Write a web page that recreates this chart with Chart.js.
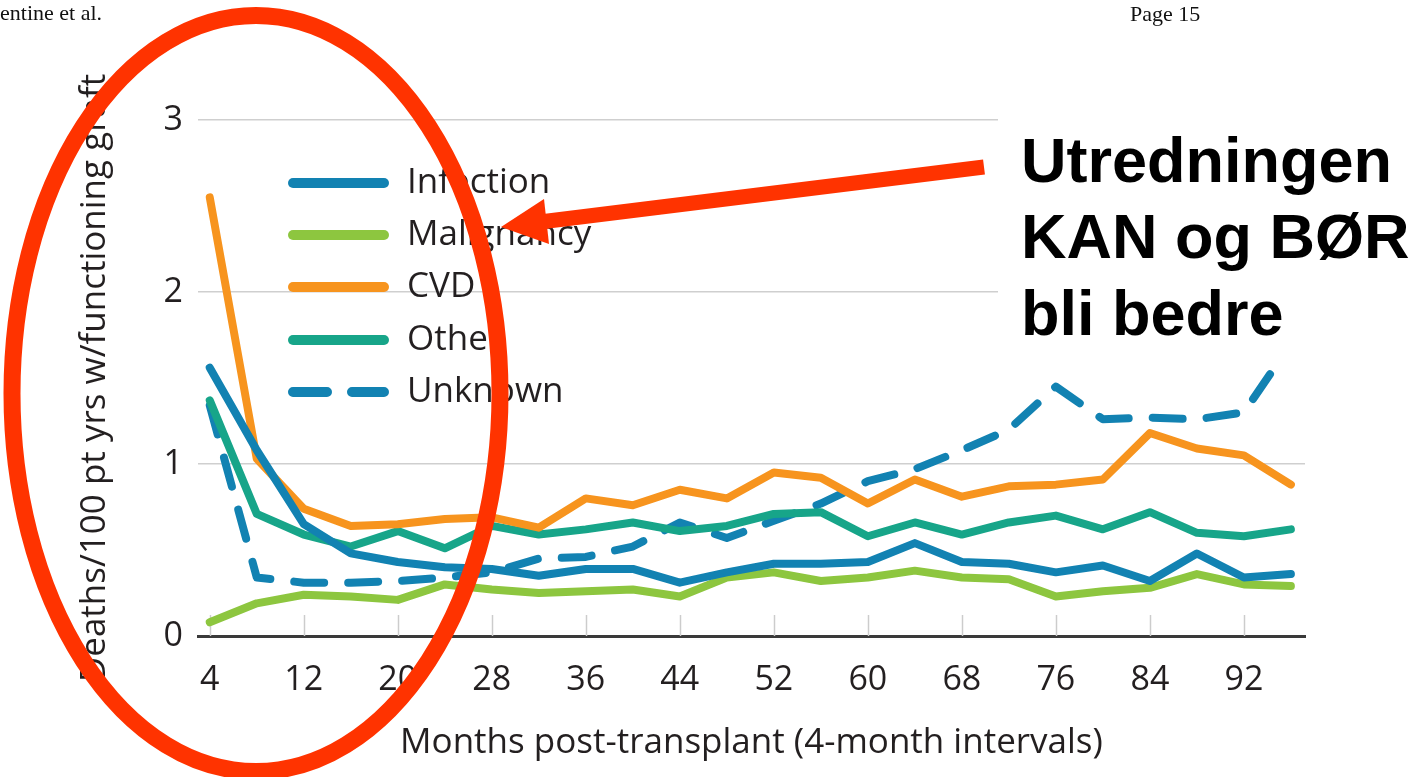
<!DOCTYPE html>
<html>
<head>
<meta charset="utf-8">
<script src="https://cdn.jsdelivr.net/npm/chart.js@4.4.1/dist/chart.umd.min.js"></script>
<style>
  html, body { margin: 0; padding: 0; background: #ffffff; }
  canvas { display: block; }
</style>
</head>
<body>
<canvas id="c" width="1413" height="777"></canvas>
<script>
// ---- data ----
const months      = [4, 8, 12, 16, 20, 24, 28, 32, 36, 40, 44, 48, 52, 56, 60, 64, 68, 72, 76, 80, 84, 88, 92, 96];
const tickMonths  = [4, 12, 20, 28, 36, 44, 52, 60, 68, 76, 84, 92];
const yTickValues = [0, 1, 2, 3];
const seriesNames = ['Infection', 'Malignancy', 'CVD', 'Other', 'Unknown'];

const infection  = [1.56, 1.08, 0.65, 0.48, 0.43, 0.40, 0.39, 0.35, 0.39, 0.39, 0.31, 0.37, 0.42, 0.42, 0.43, 0.54, 0.43, 0.42, 0.37, 0.41, 0.32, 0.48, 0.34, 0.36];
const malignancy = [0.08, 0.19, 0.24, 0.23, 0.21, 0.30, 0.27, 0.25, 0.26, 0.27, 0.23, 0.34, 0.37, 0.32, 0.34, 0.38, 0.34, 0.33, 0.23, 0.26, 0.28, 0.36, 0.30, 0.29];
const cvd        = [2.55, 1.03, 0.74, 0.64, 0.65, 0.68, 0.69, 0.63, 0.80, 0.76, 0.85, 0.80, 0.95, 0.92, 0.77, 0.91, 0.81, 0.87, 0.88, 0.91, 1.18, 1.09, 1.05, 0.88];
const other      = [1.37, 0.71, 0.59, 0.52, 0.61, 0.51, 0.64, 0.59, 0.62, 0.66, 0.61, 0.64, 0.71, 0.72, 0.58, 0.66, 0.59, 0.66, 0.70, 0.62, 0.72, 0.60, 0.58, 0.62];
const unknown    = [1.34, 0.34, 0.31, 0.31, 0.32, 0.34, 0.37, 0.45, 0.46, 0.52, 0.66, 0.57, 0.67, 0.77, 0.90, 0.97, 1.08, 1.20, 1.45, 1.26, 1.27, 1.26, 1.30, 1.70];

const seriesValues = [infection, malignancy, cvd, other, unknown];
const seriesColors = ['#1282B2', '#8DC63F', '#F7941E', '#17A589', '#1282B2'];
const seriesDashed = [false, false, false, false, true];

const xTitle = 'Months post-transplant (4-month intervals)';
const yTitle = 'Deaths/100 pt yrs w/functioning graft';
const noteLines = ['Utredningen', 'KAN og BØR', 'bli bedre'];
const headerLeft = 'entine et al.';
const headerRight = 'Page 15';

const TEXT = '#231F20';
const FONT = '"Open Sans", "Noto Sans", sans-serif';
const RED = '#FF3300';

const datasets = seriesNames.map((name, i) => ({
  label: name,
  data: months.map((m, j) => ({ x: m, y: seriesValues[i][j] })),
  borderColor: seriesColors[i],
  backgroundColor: seriesColors[i],
  borderWidth: 8,
  borderDash: seriesDashed[i] ? [30, 24] : [],
  borderCapStyle: 'round',
  borderJoinStyle: 'round',
  pointRadius: 0,
  tension: 0,
  fill: false
}));

const overlay = {
  id: 'overlay',
  beforeDatasetsDraw(chart) {
    const { ctx, chartArea, scales: { x } } = chart;
    ctx.save();
    ctx.strokeStyle = '#cccccc';
    ctx.lineWidth = 1.5;
    tickMonths.forEach(m => {
      const px = Math.round(x.getPixelForValue(m)) + 0.5;
      ctx.beginPath();
      ctx.moveTo(px, chartArea.bottom);
      ctx.lineTo(px, chartArea.bottom - 21);
      ctx.stroke();
    });
    ctx.restore();
  },
  afterDraw(chart) {
    const { ctx } = chart;
    ctx.save();

    // legend inside the plot
    const rowY = [183, 235, 287, 340, 392];
    chart.data.datasets.forEach((ds, i) => {
      ctx.strokeStyle = ds.borderColor;
      ctx.lineWidth = 10;
      ctx.lineCap = 'round';
      ctx.setLineDash(seriesDashed[i] ? [34, 25] : []);
      ctx.beginPath();
      ctx.moveTo(293, rowY[i]);
      ctx.lineTo(384, rowY[i]);
      ctx.stroke();
      ctx.setLineDash([]);
      ctx.fillStyle = TEXT;
      ctx.font = '35px ' + FONT;
      ctx.textBaseline = 'middle';
      ctx.textAlign = 'left';
      ctx.fillText(ds.label, 407, rowY[i]);
    });

    // white box with the note
    ctx.fillStyle = '#ffffff';
    ctx.fillRect(998, 108, 415, 252);
    ctx.fillStyle = '#000000';
    ctx.font = 'bold 63px "Liberation Sans", Arial, sans-serif';
    ctx.textBaseline = 'alphabetic';
    const baselines = [182, 258, 335];
    noteLines.forEach((t, i) => ctx.fillText(t, 1021, baselines[i]));

    // header texts of the scanned page
    ctx.fillStyle = '#111111';
    ctx.font = '22px "Liberation Serif", "Times New Roman", serif';
    ctx.fillText(headerLeft, 0, 20);
    ctx.fillText(headerRight, 1130, 21);

    // red ellipse
    ctx.strokeStyle = RED;
    ctx.lineWidth = 17;
    ctx.beginPath();
    ctx.ellipse(256, 393.5, 244, 378, 0, 0, Math.PI * 2);
    ctx.stroke();

    // red arrow
    ctx.lineWidth = 15;
    ctx.lineCap = 'butt';
    ctx.beginPath();
    ctx.moveTo(984, 167);
    ctx.lineTo(540, 222);
    ctx.stroke();
    ctx.fillStyle = RED;
    ctx.beginPath();
    ctx.moveTo(501, 227);
    ctx.lineTo(544, 199);
    ctx.lineTo(549, 244);
    ctx.closePath();
    ctx.fill();

    ctx.restore();
  }
};

new Chart(document.getElementById('c'), {
  type: 'line',
  data: { datasets },
  plugins: [overlay],
  options: {
    responsive: false,
    animation: false,
    devicePixelRatio: 1,
    layout: { padding: { left: 0, top: 120, right: 108, bottom: 0 } },
    plugins: { legend: { display: false }, tooltip: { enabled: false } },
    scales: {
      x: {
        type: 'linear',
        min: 3,
        max: 97.2,
        afterBuildTicks: s => { s.ticks = tickMonths.map(v => ({ value: v })); },
        afterFit: s => { s.height = 141; },
        grid: { display: true, drawOnChartArea: false, drawTicks: false },
        border: { display: true, color: '#3a3a3a', width: 3 },
        ticks: {
          autoSkip: false, maxRotation: 0, padding: 24,
          color: TEXT, font: { family: FONT, size: 34 }
        },
        title: {
          display: true, text: xTitle, color: TEXT,
          font: { family: FONT, size: 35 },
          padding: { top: 0, bottom: 13 }
        }
      },
      y: {
        min: 0,
        max: 3,
        afterBuildTicks: s => { s.ticks = yTickValues.map(v => ({ value: v })); },
        afterFit: s => { s.width = 198; },
        grid: {
          drawTicks: false,
          lineWidth: 1.5,
          color: c => (c.tick && c.tick.value === 0) ? 'rgba(0,0,0,0)' : '#cfcfcf'
        },
        border: { display: false },
        ticks: {
          padding: 15,
          color: TEXT, font: { family: FONT, size: 34 }
        },
        title: {
          display: true, text: yTitle, color: TEXT,
          font: { family: FONT, size: 35 },
          padding: { top: 74, bottom: 0 }
        }
      }
    }
  }
});
</script>
</body>
</html>
